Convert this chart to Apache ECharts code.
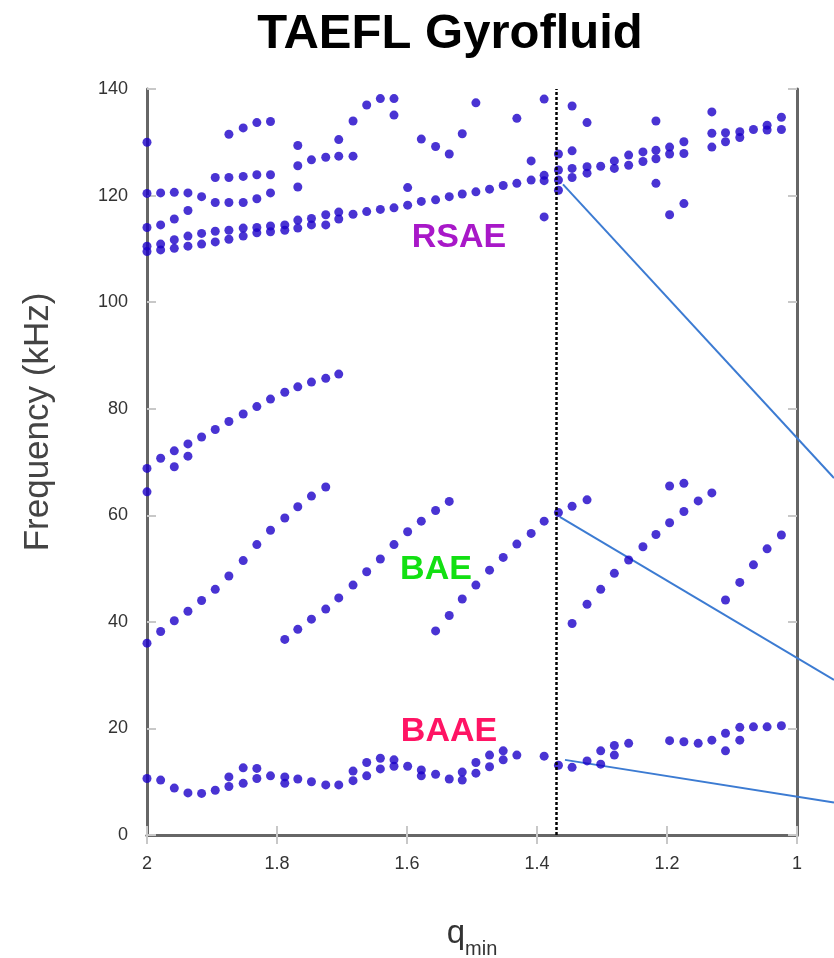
<!DOCTYPE html>
<html>
<head>
<meta charset="utf-8">
<title>TAEFL Gyrofluid</title>
<script src="https://cdn.jsdelivr.net/npm/echarts@6/dist/echarts.min.js"></script>
<style>
  html, body { margin: 0; padding: 0; background: #fff; }
  #chart { width: 834px; height: 958px; }
</style>
</head>
<body>
<div id="chart"></div>
<script>
// q_min ticks and frequency ticks
const xTicks = { min: 1, max: 2, step: 0.2 };
const yTicks = { min: 0, max: 140, step: 20 };

// BAAE branch (low frequency)
const baae = [
  [2.000,10.6],[1.979,10.3],[1.958,8.8],[1.937,7.9],[1.916,7.8],[1.895,8.4],
  [1.874,9.1],[1.874,10.9],[1.852,9.7],[1.852,12.6],[1.831,10.6],[1.831,12.5],
  [1.810,11.1],[1.788,10.9],[1.788,9.7],[1.768,10.5],[1.747,10.0],[1.725,9.4],
  [1.705,9.4],[1.683,12.0],[1.683,10.2],[1.662,13.6],[1.662,11.1],[1.641,14.4],
  [1.641,12.4],[1.620,14.1],[1.620,12.9],[1.599,12.9],[1.578,12.2],[1.578,11.1],
  [1.556,11.4],[1.535,10.5],[1.515,11.8],[1.515,10.3],[1.494,13.6],[1.494,11.6],
  [1.473,15.0],[1.473,12.8],[1.452,15.8],[1.452,14.1],[1.431,15.0],[1.389,14.8],
  [1.367,13.1],[1.346,12.7],[1.323,13.9],[1.302,15.8],[1.302,13.3],[1.281,16.8],
  [1.281,15.0],[1.259,17.2],[1.196,17.7],[1.174,17.5],[1.152,17.2],[1.131,17.8],
  [1.110,19.1],[1.110,15.8],[1.088,20.2],[1.088,17.8],[1.067,20.3],[1.046,20.3],
  [1.024,20.5]
];

// BAE branches
const bae1 = [
  [2.000,36.0],[1.979,38.2],[1.958,40.2],[1.937,42.0],[1.916,44.0],[1.895,46.1],
  [1.874,48.6],[1.852,51.5],[1.831,54.5],[1.810,57.2],[1.788,59.5],[1.768,61.6],
  [1.747,63.6],[1.725,65.3]
];
const bae2 = [
  [1.788,36.7],[1.768,38.6],[1.747,40.5],[1.725,42.4],[1.705,44.5],[1.683,46.9],
  [1.662,49.4],[1.641,51.8],[1.620,54.5],[1.599,56.9],[1.578,58.9],[1.556,60.9],
  [1.535,62.6]
];
const bae3 = [
  [1.556,38.3],[1.535,41.2],[1.515,44.3],[1.494,46.9],[1.473,49.7],[1.452,52.1],
  [1.431,54.6],[1.409,56.6],[1.389,58.9],[1.367,60.5],[1.346,61.7],[1.323,62.9]
];
const bae4 = [
  [1.346,39.7],[1.323,43.3],[1.302,46.1],[1.281,49.1],[1.259,51.6],[1.237,54.1],
  [1.217,56.4],[1.196,58.6],[1.174,60.7],[1.152,62.7],[1.131,64.2],
  [1.196,65.5],[1.174,66.0]
];
const bae5 = [
  [1.110,44.1],[1.088,47.4],[1.067,50.7],[1.046,53.7],[1.024,56.3]
];

// branch between 64 and 87 kHz
const mid = [
  [2.000,64.4],[2.000,68.8],[1.979,70.7],[1.958,69.1],[1.958,72.1],[1.937,71.1],
  [1.937,73.4],[1.916,74.7],[1.895,76.1],[1.874,77.6],[1.852,79.0],[1.831,80.4],
  [1.810,81.8],[1.788,83.1],[1.768,84.1],[1.747,85.0],[1.725,85.7],[1.705,86.5]
];

// RSAE main band
const rsaeBand = [
  [2.000,110.5],[2.000,109.5],[1.979,110.9],[1.979,109.8],[1.958,111.7],[1.958,110.1],
  [1.937,112.4],[1.937,110.5],[1.916,112.9],[1.916,110.9],[1.895,113.3],[1.895,111.3],
  [1.874,113.5],[1.874,111.8],[1.852,113.9],[1.852,112.4],[1.831,114.0],[1.831,113.0],
  [1.810,114.3],[1.810,113.2],[1.788,114.5],[1.788,113.5],[1.768,115.4],[1.768,113.9],
  [1.747,115.7],[1.747,114.5],[1.725,116.4],[1.725,114.5],[1.705,116.9],[1.705,115.6],
  [1.683,116.5],[1.662,117.0],[1.641,117.4],[1.620,117.7],[1.599,118.2],[1.578,118.9],
  [1.556,119.2],[1.535,119.8],[1.515,120.3],[1.494,120.7],[1.473,121.2],[1.452,121.9],
  [1.431,122.3],[1.409,122.9],[1.389,123.8],[1.389,122.8],[1.367,124.8],[1.367,122.9],
  [1.346,125.1],[1.346,123.4],[1.323,125.4],[1.323,124.2],[1.302,125.5],[1.281,126.5],
  [1.281,125.1],[1.259,127.6],[1.259,125.7],[1.237,128.2],[1.237,126.4],[1.217,128.5],
  [1.217,126.9],[1.196,129.1],[1.196,127.8],[1.174,130.1],[1.174,127.9],[1.131,131.7],
  [1.131,129.1],[1.110,131.8],[1.110,130.1],[1.088,132.0],[1.088,130.9],[1.067,132.4],
  [1.046,133.2],[1.046,132.3],[1.024,134.7],[1.024,132.4]
];

// other modes above 110 kHz
const upper = [
  [2.000,130.0],
  [2.000,120.4],[1.979,120.5],[1.958,120.6],[1.937,120.5],[1.916,119.8],[1.895,118.7],
  [1.874,118.7],[1.852,118.7],[1.831,119.4],[1.810,120.5],
  [2.000,114.0],[1.979,114.5],[1.958,115.6],[1.937,117.2],
  [1.895,123.4],[1.874,123.4],[1.852,123.6],[1.831,123.9],[1.810,123.9],
  [1.874,131.5],[1.852,132.7],[1.831,133.7],[1.810,133.9],
  [1.768,121.6],[1.768,125.6],[1.747,126.7],[1.725,127.2],[1.705,127.4],[1.683,127.4],
  [1.768,129.4],[1.705,130.5],[1.683,134.0],[1.662,137.0],[1.641,138.2],[1.620,138.2],
  [1.620,135.1],
  [1.599,121.5],[1.578,130.6],[1.556,129.2],[1.535,127.8],[1.515,131.6],[1.494,137.4],
  [1.431,134.5],[1.409,126.5],[1.389,138.1],[1.389,116.0],
  [1.367,127.8],[1.346,128.4],[1.367,121.0],[1.346,136.8],[1.323,133.7],
  [1.217,134.0],[1.217,122.3],[1.196,116.4],[1.174,118.5],[1.131,135.7]
];

// q_min of the dashed marker and the three callout lines (run off the right edge)
const qMark = 1.37;
const qEdge = 0.9431;   // q_min at the right edge of the page, same scale as the plot
const callouts = [
  [[1.360,122.1],[qEdge,67.0]],
  [[1.365,59.7],[qEdge,29.1]],
  [[1.357,14.1],[qEdge,6.1]]
];

const DOT = '#1c00c8';
const FONT = 'Liberation Sans, Arial, sans-serif';

function dots(name, data) {
  return {
    name: name,
    type: 'scatter',
    data: data,
    symbol: 'circle',
    symbolSize: 9,
    itemStyle: { color: DOT },
    clip: false,
    z: 4
  };
}

const frame = {
  axisLine: { show: true, lineStyle: { color: '#666', width: 3 } },
  axisTick: { show: true, inside: true, length: 9, lineStyle: { color: '#c8c8c8', width: 2 } },
  splitLine: { show: false }
};

const fmt = v => String(Math.round(v * 10) / 10);

const chart = echarts.init(document.getElementById('chart'));

const series = [
  dots('BAAE', baae),
  dots('BAE 1', bae1),
  dots('BAE 2', bae2),
  dots('BAE 3', bae3),
  dots('BAE 4', bae4),
  dots('BAE 5', bae5),
  dots('mid', mid),
  dots('RSAE', rsaeBand),
  dots('upper', upper),
  {
    // dashed q_min marker
    type: 'line',
    data: [],
    markLine: {
      silent: true,
      symbol: ['none', 'none'],
      label: { show: false },
      lineStyle: { color: '#000', width: 2.5, type: [3, 2] },
      data: [{ xAxis: qMark }]
    }
  }
];

callouts.forEach(seg => {
  series.push({
    type: 'line',
    xAxisIndex: 2,
    yAxisIndex: 2,
    data: seg,
    symbol: 'none',
    silent: true,
    lineStyle: { color: '#3c7bd2', width: 2 },
    z: 3
  });
});

chart.setOption({
  animation: false,
  grid: [
    { left: 147, right: 37, top: 89, bottom: 123, outerBoundsMode: 'none' },
    { left: 147, right: 0, top: 89, bottom: 123, outerBoundsMode: 'none' }
  ],
  xAxis: [
    Object.assign({}, frame, {
      type: 'value', position: 'bottom',
      min: xTicks.min, max: xTicks.max, interval: xTicks.step, inverse: true,
      axisLine: { show: true, lineStyle: { color: '#858585', width: 3 } },
      axisLabel: { margin: 20, fontSize: 18, color: '#333', fontFamily: FONT, formatter: fmt },
      name: '{q|q}{s|min}',
      nameLocation: 'middle',
      nameGap: 74,
      nameTextStyle: {
        rich: {
          q: { fontSize: 33, color: '#333', fontFamily: FONT },
          s: { fontSize: 20, color: '#333', fontFamily: FONT, padding: [30, 0, 0, 0] }
        }
      }
    }),
    Object.assign({}, frame, {
      type: 'value', position: 'top',
      min: xTicks.min, max: xTicks.max, interval: xTicks.step, inverse: true,
      axisLabel: { show: false }
    }),
    { type: 'value', gridIndex: 1, min: qEdge, max: xTicks.max, inverse: true, show: false }
  ],
  yAxis: [
    Object.assign({}, frame, {
      type: 'value', position: 'left',
      min: yTicks.min, max: yTicks.max, interval: yTicks.step,
      axisLabel: { margin: 19, fontSize: 18, color: '#333', fontFamily: FONT }
    }),
    Object.assign({}, frame, {
      type: 'value', position: 'right',
      min: yTicks.min, max: yTicks.max, interval: yTicks.step,
      axisLabel: { show: false }
    }),
    { type: 'value', gridIndex: 1, min: yTicks.min, max: yTicks.max, show: false }
  ],
  graphic: [
    { type: 'text', x: 450, y: 34, style: { text: 'TAEFL Gyrofluid', font: 'bold 49px ' + FONT, fill: '#000', align: 'center', verticalAlign: 'middle' } },
    { type: 'text', x: 38, y: 422, rotation: Math.PI / 2, style: { text: 'Frequency (kHz)', font: '35px ' + FONT, fill: '#444', align: 'center', verticalAlign: 'middle' } },
    { type: 'text', x: 459, y: 238, z: 10, style: { text: 'RSAE', font: 'bold 34px ' + FONT, fill: '#a818c8', align: 'center', verticalAlign: 'middle' } },
    { type: 'text', x: 436, y: 570, z: 10, style: { text: 'BAE', font: 'bold 34px ' + FONT, fill: '#12e012', align: 'center', verticalAlign: 'middle' } },
    { type: 'text', x: 449, y: 732, z: 10, style: { text: 'BAAE', font: 'bold 34px ' + FONT, fill: '#ff1464', align: 'center', verticalAlign: 'middle' } }
  ],
  series: series
});
</script>
</body>
</html>
